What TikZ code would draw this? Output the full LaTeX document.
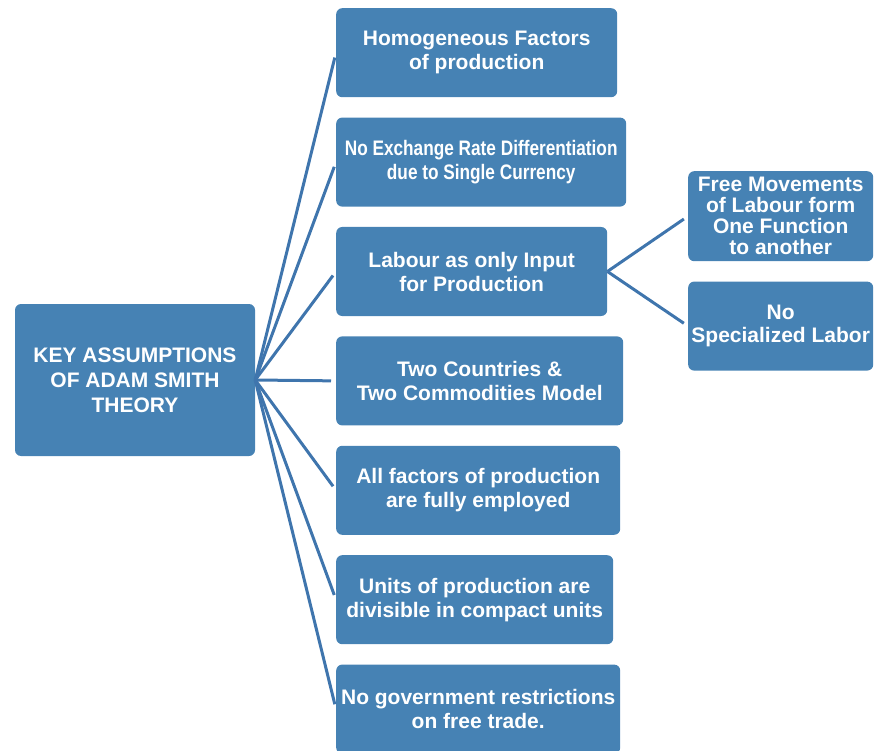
\documentclass[tikz,border=0pt]{standalone}
\usepackage{fontspec}
\setmainfont{Liberation Sans}
\newfontfamily\narrowfont[FakeStretch=0.82]{Liberation Sans}
\usepackage{tikz}
\usetikzlibrary{positioning}
\definecolor{steelbox}{HTML}{4682B4}
\definecolor{steelline}{HTML}{3F75AD}

\begin{document}
\begin{tikzpicture}[
    x=1pt, y=-1pt,
    node distance=20pt,
    block/.style={rectangle, rounded corners=6pt, fill=steelbox, text=white, font=\fontsize{21}{24}\selectfont\bfseries, align=center, minimum height=89pt, inner sep=2pt},
    link/.style={steelline, line width=3pt, shorten >=5pt}
]
\useasboundingbox (0,0) rectangle (875,751);

\node[block, minimum width=240pt, minimum height=152pt, font=\fontsize{21}{25}\selectfont\bfseries] (key) at (135,380) {KEY ASSUMPTIONS\\OF ADAM SMITH\\THEORY};

\node[block, minimum width=281pt, anchor=north west] (a1) at (336,8) {Homogeneous Factors\\of production};
\node[block, minimum width=290pt, below=20pt of a1.south west, anchor=north west, font=\fontsize{21}{24}\selectfont\narrowfont\bfseries] (a2) {No Exchange Rate Differentiation\\due to Single Currency};
\node[block, minimum width=271pt, below=20pt of a2.south west, anchor=north west] (a3) {Labour as only Input\\for Production};
\node[block, minimum width=287pt, below=20pt of a3.south west, anchor=north west] (a4) {Two Countries \&\\Two Commodities Model};
\node[block, minimum width=284pt, below=20pt of a4.south west, anchor=north west] (a5) {All factors of production\\are fully employed};
\node[block, minimum width=277pt, below=20pt of a5.south west, anchor=north west] (a6) {Units of production are\\divisible in compact units};
\node[block, minimum width=284pt, below=20pt of a6.south west, anchor=north west] (a7) {No government restrictions\\on free trade.};

\node[block, minimum width=185pt, minimum height=90pt, anchor=north west, font=\fontsize{21}{21}\selectfont\bfseries] (s1) at (688,171) {Free Movements\\of Labour form\\One Function\\to another};
\node[block, minimum width=185pt, below=20pt of s1.south west, anchor=north west, font=\fontsize{21}{23}\selectfont\bfseries] (s2) {No\\Specialized Labor};

\draw[link] (key.east) -- (a1.west);
\draw[link] (key.east) -- (a2.west);
\draw[link] (key.east) -- (a3.west);
\draw[link] (key.east) -- (a4.west);
\draw[link] (key.east) -- (a5.west);
\draw[link] (key.east) -- (a6.west);
\draw[link] (key.east) -- (a7.west);
\draw[link] (a3.east) -- (s1.west);
\draw[link] (a3.east) -- (s2.west);
\end{tikzpicture}
\end{document}
